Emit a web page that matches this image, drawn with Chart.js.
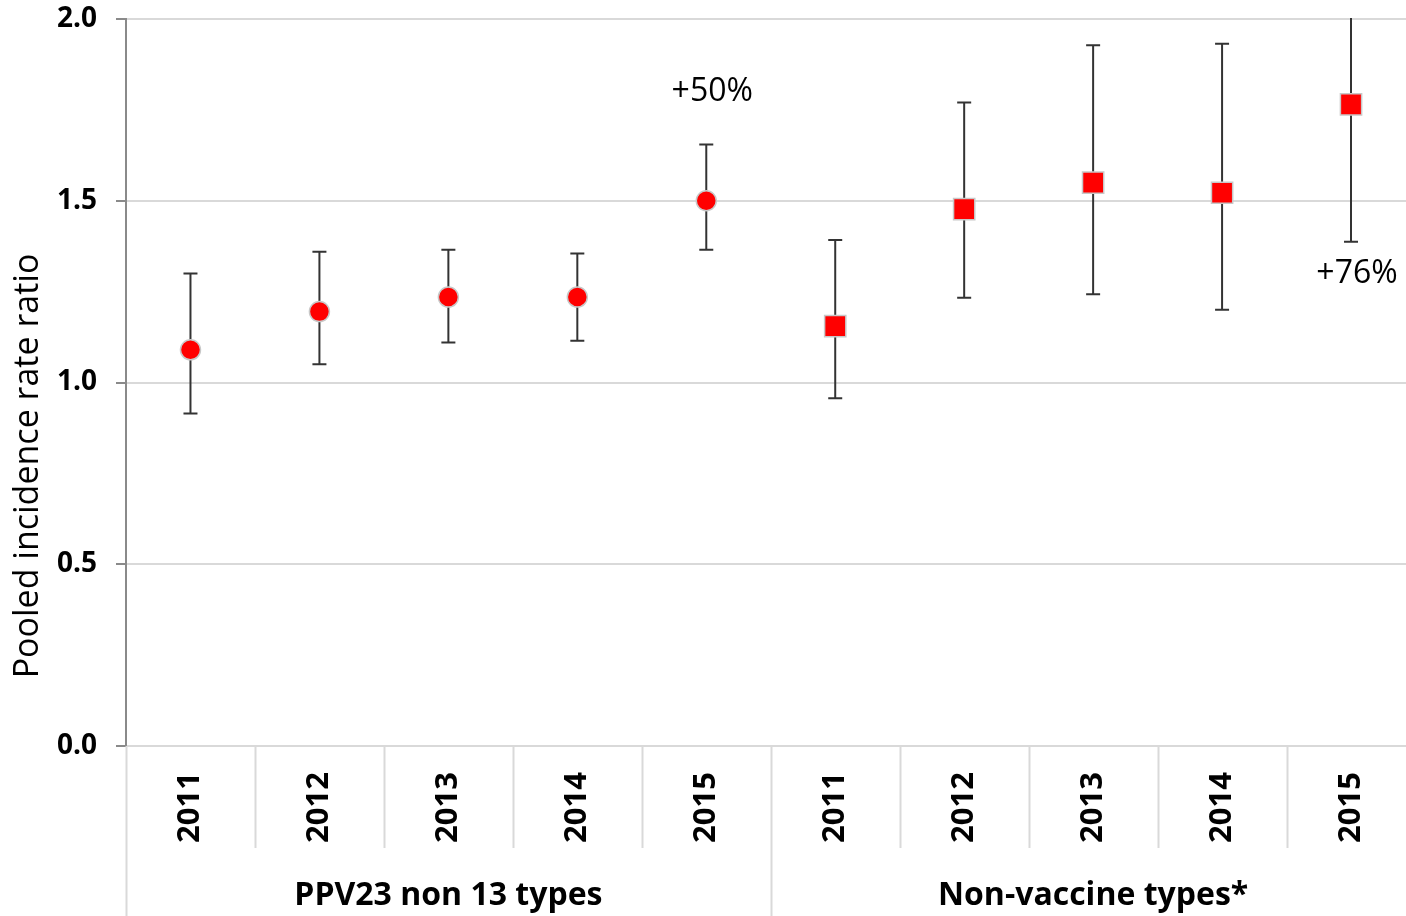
<!DOCTYPE html>
<html>
<head>
<meta charset="utf-8">
<script src="https://cdn.jsdelivr.net/npm/chart.js@4.4.1/dist/chart.umd.min.js"></script>
<style>
html, body { margin: 0; padding: 0; background: #fff; overflow: hidden; }
#wrap { width: 1406px; height: 916px; overflow: hidden; }
</style>
</head>
<body>
<div id="wrap"><canvas id="chart" width="1432" height="916"></canvas></div>
<script>
// categories
var years = ['2011', '2012', '2013', '2014', '2015', '2011', '2012', '2013', '2014', '2015'];
var groups = ['PPV23 non 13 types', 'Non-vaccine types*'];
var groupSize = [5, 5];
var yTitle = 'Pooled incidence rate ratio';

// pooled incidence rate ratio with 95% CI
var ppvRatio = [1.09, 1.195, 1.235, 1.235, 1.50];
var ppvLow   = [0.915, 1.05, 1.11, 1.115, 1.365];
var ppvHigh  = [1.30, 1.36, 1.365, 1.355, 1.655];

var nvtRatio = [1.155, 1.477, 1.55, 1.522, 1.765];
var nvtLow   = [0.957, 1.233, 1.243, 1.20, 1.387];
var nvtHigh  = [1.392, 1.77, 1.928, 1.932, 2.2];

var yTicks = [0, 0.5, 1.0, 1.5, 2.0];

// text notes next to the 2015 points
var notes = ['+50%', '+76%'];
var noteIndex = [4, 9];
var noteValue = [1.80, 1.30];

var empty = [null, null, null, null, null];

var errorBars = {
    id: 'errorBars',
    beforeDatasetsDraw: function (chart) {
        var ctx = chart.ctx;
        var x = chart.scales.x, y = chart.scales.y;
        var area = chart.chartArea;
        ctx.save();
        ctx.beginPath();
        ctx.rect(area.left, area.top - 1, area.right - area.left, area.bottom - area.top + 2);
        ctx.clip();
        ctx.strokeStyle = '#333';
        ctx.lineWidth = 2;
        chart.data.datasets.forEach(function (ds) {
            ds.data.forEach(function (v, i) {
                if (v === null) return;
                var px = x.getPixelForValue(i);
                var top = y.getPixelForValue(ds.errHigh[i]);
                var bot = y.getPixelForValue(ds.errLow[i]);
                ctx.beginPath();
                ctx.moveTo(px, top); ctx.lineTo(px, bot);
                ctx.moveTo(px - 7, top); ctx.lineTo(px + 7, top);
                ctx.moveTo(px - 7, bot); ctx.lineTo(px + 7, bot);
                ctx.stroke();
            });
        });
        ctx.restore();
    },
    afterDraw: function (chart) {
        var ctx = chart.ctx;
        var x = chart.scales.x, y = chart.scales.y;
        var area = chart.chartArea;
        ctx.save();

        // y title
        ctx.save();
        ctx.translate(28, 466);
        ctx.rotate(-Math.PI / 2);
        ctx.fillStyle = '#000';
        ctx.font = '34px "Open Sans"';
        ctx.textAlign = 'center';
        ctx.textBaseline = 'middle';
        ctx.fillText(yTitle, 0, 0);
        ctx.restore();

        // notes
        ctx.fillStyle = '#000';
        ctx.font = '32px "Open Sans"';
        ctx.textAlign = 'center';
        ctx.textBaseline = 'middle';
        notes.forEach(function (t, k) {
            ctx.fillText(t, x.getPixelForValue(noteIndex[k]) + 6, y.getPixelForValue(noteValue[k]));
        });

        // category separators below the axis
        var n = years.length;
        var edges = [];
        for (var i = 0; i <= n; i++) {
            if (i === 0) edges.push(area.left);
            else if (i === n) edges.push(area.right);
            else edges.push((x.getPixelForValue(i - 1) + x.getPixelForValue(i)) / 2);
        }
        ctx.strokeStyle = '#d9d9d9';
        ctx.lineWidth = 2;
        var start = 0, groupEdges = [0];
        groupSize.forEach(function (s) { start += s; groupEdges.push(start); });
        for (var j = 0; j <= n; j++) {
            var isGroup = groupEdges.indexOf(j) >= 0;
            ctx.beginPath();
            ctx.moveTo(Math.round(edges[j]) + 0.5, area.bottom);
            ctx.lineTo(Math.round(edges[j]) + 0.5, isGroup ? chart.height : area.bottom + 102);
            ctx.stroke();
        }

        // group labels
        ctx.fillStyle = '#000';
        ctx.font = 'bold 32px "Open Sans"';
        for (var g = 0; g < groups.length; g++) {
            var cx = (edges[groupEdges[g]] + edges[groupEdges[g + 1]]) / 2;
            ctx.fillText(groups[g], cx, area.bottom + 150);
        }
        ctx.restore();
    }
};

var ctx = document.getElementById('chart').getContext('2d');
var myChart = new Chart(ctx, {
    type: 'line',
    data: {
        labels: years,
        datasets: [{
            label: groups[0],
            data: ppvRatio.concat(empty),
            errLow: ppvLow.concat(empty),
            errHigh: ppvHigh.concat(empty),
            showLine: false,
            pointStyle: 'circle',
            pointRadius: 10,
            pointBackgroundColor: '#ff0000',
            pointBorderColor: '#c8c8c8',
            pointBorderWidth: 1.5
        }, {
            label: groups[1],
            data: empty.concat(nvtRatio),
            errLow: empty.concat(nvtLow),
            errHigh: empty.concat(nvtHigh),
            showLine: false,
            pointStyle: 'rect',
            pointRadius: 15,
            pointBackgroundColor: '#ff0000',
            pointBorderColor: '#c8c8c8',
            pointBorderWidth: 1.5
        }]
    },
    options: {
        responsive: false,
        animation: false,
        devicePixelRatio: 1,
        layout: { padding: { top: 19, right: 4, left: 0, bottom: 0 } },
        plugins: {
            legend: { display: false },
            tooltip: { enabled: false }
        },
        scales: {
            x: {
                type: 'category',
                offset: true,
                grid: { display: false, drawTicks: false },
                border: { display: false },
                ticks: {
                    autoSkip: false,
                    minRotation: 90,
                    maxRotation: 90,
                    padding: 26,
                    color: '#000',
                    font: { family: 'Open Sans', size: 31, weight: 'bold' }
                },
                afterFit: function (scale) { scale.height = 170; }
            },
            y: {
                min: 0,
                max: 2,
                afterBuildTicks: function (scale) {
                    scale.ticks = yTicks.map(function (v) { return { value: v }; });
                },
                grid: { color: '#d9d9d9', lineWidth: 2, tickColor: '#8a8a8a', tickLength: 10 },
                border: { color: '#8a8a8a', width: 2 },
                ticks: {
                    padding: 19,
                    color: '#000',
                    font: { family: 'Open Sans', size: 28, weight: 'bold' },
                    callback: function (v) { return Number(v).toFixed(1); }
                },
                afterFit: function (scale) {
                    scale.width = 126;
                    scale.paddingTop = 0;
                    scale.paddingBottom = 0;
                }
            }
        }
    },
    plugins: [errorBars]
});
</script>
</body>
</html>
